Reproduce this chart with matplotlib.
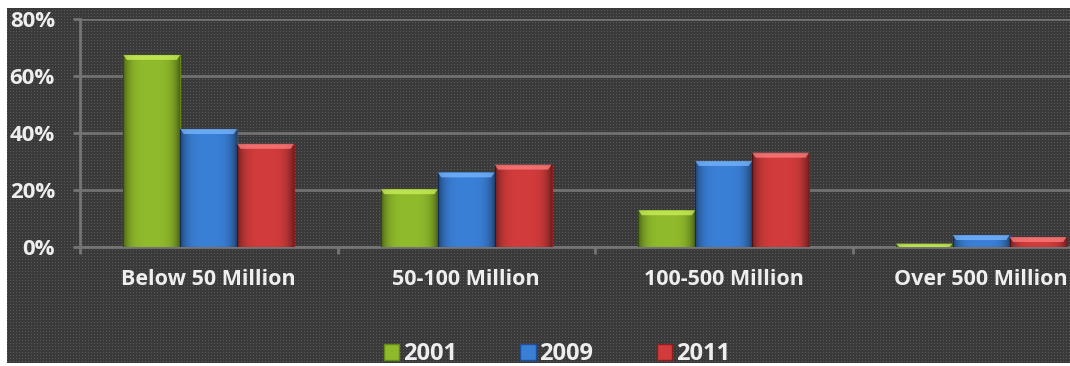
import numpy as np
import matplotlib
matplotlib.use("Agg")
import matplotlib.pyplot as plt
from matplotlib.patches import Patch
from matplotlib.colors import to_rgb

categories = ["Below 50 Million", "50-100 Million", "100-500 Million", "Over 500 Million"]
years = ["2001", "2009", "2011"]
share_2001 = [67.4, 20.3, 12.9, 1.2]
share_2009 = [41.4, 26.2, 30.2, 4.2]
share_2011 = [36.2, 28.9, 33.1, 3.5]
y_ticks = [0, 20, 40, 60, 80]

colors = ["#8fba2c", "#3a7fd6", "#d13b3b"]
highlights = ["#cdf25a", "#7ab8ff", "#ff8080"]
edges = ["#5f8a14", "#1f4f9a", "#8c1e1e"]

W, H, DPI = 1070, 366, 100
plt.rcParams["font.family"] = ["Open Sans", "DejaVu Sans"]
plt.rcParams["font.weight"] = "bold"
fig = plt.figure(figsize=(W / DPI, H / DPI), dpi=DPI, facecolor="white")

# dark dotted panel with a thin white margin on top/left/bottom
bg = np.ones((H, W, 3))
inside = np.zeros((H, W), bool)
inside[8:363, 7:] = True
bg[inside] = to_rgb("#3a3a3a")
yy, xx = np.mgrid[0:H, 0:W]
dots = (yy % 3 == 1) & (xx % 3 == 1) & inside
bg[dots] = to_rgb("#5a5a5a")
fig.figimage(bg, xo=0, yo=0, origin="upper", zorder=-10)

ax = fig.add_axes([80 / W, 119 / H, 4 * 257.5 / W, 228 / H])
ax.patch.set_alpha(0)

x = np.arange(len(categories))
bw = 0.221
px_per_unit = 228 / 80
bevel = 5 / px_per_unit

# horizontal shading: darker at the sides of every bar
t = np.linspace(0, 1, 60)
shade = np.zeros((1, 60, 4))
shade[..., 3] = 0.45 * np.abs(2 * t - 1) ** 4

series = [share_2001, share_2009, share_2011]
for i, vals in enumerate(series):
    bars = ax.bar(x + (i - 1) * bw, vals, bw, color=colors[i], edgecolor=edges[i],
                  linewidth=0.8, zorder=3, label=years[i])
    for b in bars:
        x0, w, h = b.get_x(), b.get_width(), b.get_height()
        im = ax.imshow(shade, extent=(x0, x0 + w, 0, h), aspect="auto", zorder=3.5,
                       interpolation="bilinear")
        im.set_clip_path(b)
        bh = min(bevel, h)
        inset = w * 0.06
        ax.fill([x0, x0 + w, x0 + w - inset, x0 + inset], [h, h, h - bh, h - bh],
                color=highlights[i], alpha=0.75, lw=0, zorder=4)

ax.set_xlim(-0.5, 3.5)
ax.set_ylim(0, 80)

ax.set_yticks(y_ticks)
ax.set_yticklabels([f"{v}%" for v in y_ticks])
ax.yaxis.grid(True, color="#727272", lw=2, zorder=1)
ax.set_axisbelow(True)

ax.set_xticks(x)
ax.set_xticklabels(categories)
ax.set_xticks([-0.5, 0.5, 1.5, 2.5], minor=True)

for s in ["top", "right"]:
    ax.spines[s].set_visible(False)
for s in ["left", "bottom"]:
    ax.spines[s].set_color("#757575")
    ax.spines[s].set_linewidth(2)

ax.tick_params(axis="y", colors="#757575", labelcolor="#eeeeee", length=5, width=2,
               pad=13, labelsize=16)
ax.tick_params(axis="x", which="major", length=0, pad=16, labelcolor="#eeeeee",
               labelsize=15.5)
ax.tick_params(axis="x", which="minor", length=5, width=2, color="#757575")

handles = [Patch(facecolor=colors[i], edgecolor=edges[i], label=years[i]) for i in range(3)]
fig.legend(handles=handles, loc="center", bbox_to_anchor=(557 / W, 12 / H), ncol=3,
           frameon=False, fontsize=17, labelcolor="#eeeeee", handlelength=0.65,
           handleheight=0.65, handletextpad=0.15, columnspacing=2.7)

fig.savefig("out.png", dpi=DPI, facecolor="white")
